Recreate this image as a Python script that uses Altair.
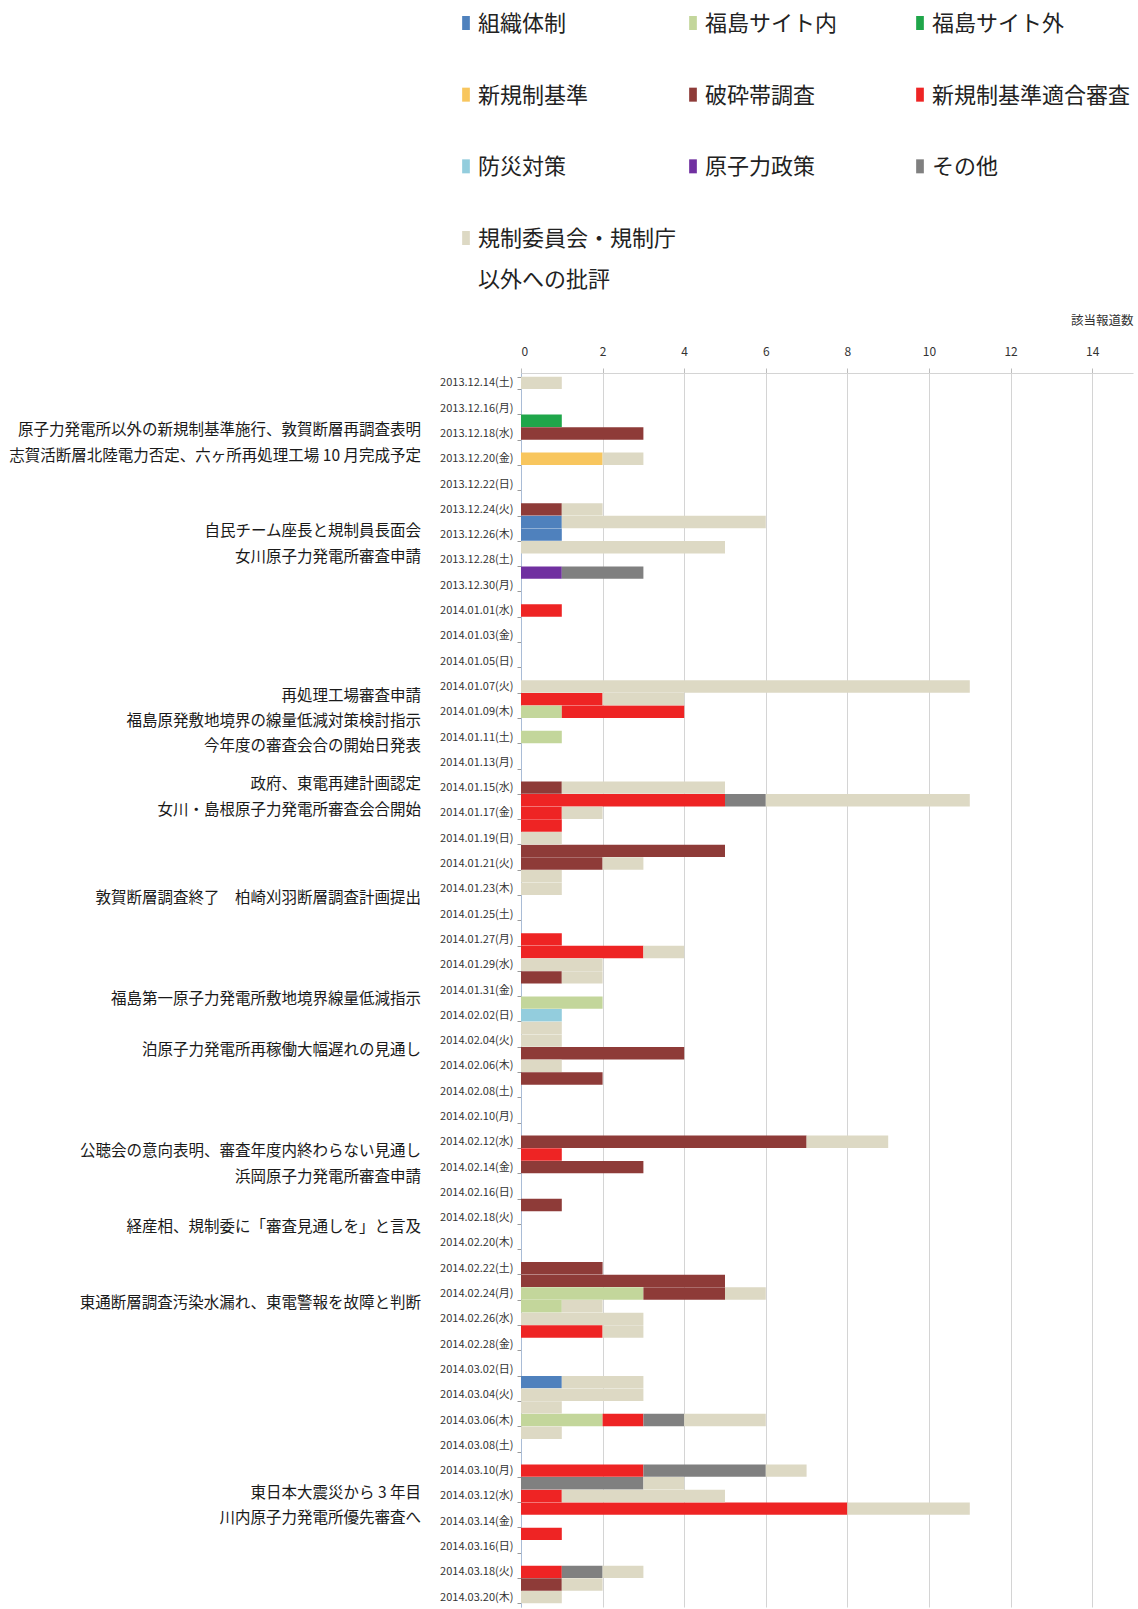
import altair as alt
import pandas as pd

FONT = "Noto Sans CJK JP"

categories = ["組織体制", "福島サイト内", "福島サイト外", "新規制基準", "破砕帯調査",
              "新規制基準適合審査", "防災対策", "原子力政策", "その他",
              "規制委員会・規制庁以外への批評"]
legend_text = ["組織体制", "福島サイト内", "福島サイト外", "新規制基準", "破砕帯調査",
               "新規制基準適合審査", "防災対策", "原子力政策", "その他",
               "規制委員会・規制庁\n以外への批評"]
colors = ["#4F81BD", "#C3D69B", "#1FA64A", "#F8C65E", "#8E3B38",
          "#EE2424", "#93CDDD", "#7030A0", "#808080", "#DDD9C4"]

start_date = "2013-12-14"
end_date = "2014-03-20"
weekday_jp = ["月", "火", "水", "木", "金", "土", "日"]

# counts per category, keyed by "MM.DD"
org = {"12.25": 1, "12.26": 1, "03.03": 1}
fuku_in = {"01.09": 1, "01.11": 1, "02.01": 2, "02.24": 3, "02.25": 1, "03.06": 2}
fuku_out = {"12.17": 1}
new_std = {"12.20": 2}
fault = {"12.18": 3, "12.24": 1, "01.15": 1, "01.20": 5, "01.21": 2, "01.30": 1,
         "02.05": 4, "02.07": 2, "02.12": 7, "02.14": 3, "02.17": 1, "02.22": 2,
         "02.23": 5, "02.24": 2, "03.19": 1}
review = {"01.01": 1, "01.08": 2, "01.09": 3, "01.16": 5, "01.17": 1, "01.18": 1,
          "01.27": 1, "01.28": 3, "02.13": 1, "02.27": 2, "03.06": 1, "03.10": 3,
          "03.12": 1, "03.13": 8, "03.15": 1, "03.18": 1}
disaster = {"02.02": 1}
policy = {"12.29": 1}
other = {"12.29": 2, "01.16": 1, "03.06": 1, "03.10": 3, "03.11": 3, "03.18": 1}
critique = {"12.14": 1, "12.20": 1, "12.24": 1, "12.25": 5, "12.27": 5, "01.07": 11,
            "01.08": 2, "01.15": 4, "01.16": 5, "01.17": 1, "01.19": 1, "01.21": 1,
            "01.22": 1, "01.23": 1, "01.28": 1, "01.29": 2, "01.30": 1, "02.03": 1,
            "02.04": 1, "02.06": 1, "02.12": 2, "02.24": 1, "02.25": 1, "02.26": 3,
            "02.27": 1, "03.03": 2, "03.04": 3, "03.05": 1, "03.06": 2, "03.07": 1,
            "03.10": 1, "03.11": 1, "03.12": 4, "03.13": 3, "03.18": 1, "03.19": 1,
            "03.20": 1}
series = [org, fuku_in, fuku_out, new_std, fault, review, disaster, policy, other, critique]

annotations = [
    ("12.18", "原子力発電所以外の新規制基準施行、敦賀断層再調査表明"),
    ("12.20", "志賀活断層北陸電力否定、六ヶ所再処理工場 10 月完成予定"),
    ("12.26", "自民チーム座長と規制員長面会"),
    ("12.28", "女川原子力発電所審査申請"),
    ("01.08", "再処理工場審査申請"),
    ("01.10", "福島原発敷地境界の線量低減対策検討指示"),
    ("01.12", "今年度の審査会合の開始日発表"),
    ("01.15", "政府、東電再建計画認定"),
    ("01.17", "女川・島根原子力発電所審査会合開始"),
    ("01.24", "敦賀断層調査終了　柏崎刈羽断層調査計画提出"),
    ("02.01", "福島第一原子力発電所敷地境界線量低減指示"),
    ("02.05", "泊原子力発電所再稼働大幅遅れの見通し"),
    ("02.13", "公聴会の意向表明、審査年度内終わらない見通し"),
    ("02.15", "浜岡原子力発電所審査申請"),
    ("02.19", "経産相、規制委に「審査見通しを」と言及"),
    ("02.25", "東通断層調査汚染水漏れ、東電警報を故障と判断"),
    ("03.12", "東日本大震災から 3 年目"),
    ("03.14", "川内原子力発電所優先審査へ"),
]

# ---- build tables ----
days = pd.date_range(start_date, end_date, freq="D")
labels = [f"{d:%Y.%m.%d}({weekday_jp[d.dayofweek]})" for d in days]
key_to_label = {f"{d:%m.%d}": lab for d, lab in zip(days, labels)}

rows = []
for ci, (cat, s) in enumerate(zip(categories, series)):
    for k, v in s.items():
        rows.append({"label": key_to_label[k], "cat": cat, "ci": ci, "count": v})
df = pd.DataFrame(rows)

ann_df = pd.DataFrame([{"label": key_to_label[k], "text": t} for k, t in annotations])

leg_df = pd.DataFrame({
    "cat": categories,
    "text": legend_text,
    "col": [i % 3 for i in range(len(categories))],
    "row": [i // 3 for i in range(len(categories))],
})

cscale = alt.Scale(domain=categories, range=colors)
yscale = alt.Scale(domain=labels, paddingInner=0.02, paddingOuter=0.29)
yaxis = alt.Axis(values=labels[::2], title=None, labelFontSize=11, labelColor="#333333",
                 tickSize=4, tickColor="#9a9a9a", domainColor="#A9BCD6", labelPadding=4,
                 tickBand="extent", grid=False)

bars = alt.Chart(df).mark_bar(strokeWidth=0).encode(
    x=alt.X("count:Q", stack="zero",
            scale=alt.Scale(domain=[0, 15], nice=False),
            axis=alt.Axis(orient="top", values=list(range(0, 15, 2)), grid=True,
                          gridColor="#D4D4D4", domainColor="#D4D4D4", tickColor="#BDBDBD",
                          tickSize=5, labelPadding=10, labelFontSize=12, labelColor="#333333",
                          title="該当報道数", titleX=612, titleY=-53, titleAlign="right",
                          titleBaseline="middle", titleFontSize=12.5, titleFontWeight="normal",
                          titleColor="#333333")),
    y=alt.Y("label:N", sort=labels, scale=yscale, axis=yaxis),
    color=alt.Color("cat:N", scale=cscale, legend=None),
    order=alt.Order("ci:Q", sort="ascending"),
)

ann = alt.Chart(ann_df).mark_text(align="right", baseline="middle", fontSize=15.5, dy=3,
                                  font=FONT, color="#1a1a1a").encode(
    x=alt.value(-100),
    y=alt.Y("label:N", sort=labels, scale=yscale, axis=yaxis, bandPosition=0),
    text="text:N",
)

xs = alt.X("col:Q", scale=alt.Scale(domain=[0, 2], range=[-55, 399], nice=False, zero=False), axis=None)
ys = alt.Y("row:Q", scale=alt.Scale(domain=[0, 3], range=[-350, -135], nice=False, zero=False), axis=None)

sym = alt.Chart(leg_df).mark_point(shape="M-0.55,-1H0.55V1H-0.55Z", size=196, filled=True,
                                   opacity=1, strokeWidth=0).encode(
    x=xs, y=ys, color=alt.Color("cat:N", scale=cscale, legend=None))
lab = alt.Chart(leg_df).mark_text(align="left", baseline="alphabetic", dx=12, dy=8,
                                  fontSize=22, font=FONT, color="#222222",
                                  lineBreak="\n", lineHeight=41).encode(
    x=xs, y=ys, text="text:N")

main = alt.layer(bars, ann)
legend = alt.layer(sym, lab)

chart = alt.layer(main, legend).resolve_scale(x="independent", y="independent").properties(
    width=612, height=1234,
    autosize=alt.AutoSizeParams(type="none"),
    padding={"left": 521, "top": 373, "right": 5, "bottom": 2},
).configure_view(stroke=None).configure_axis(labelFont=FONT, titleFont=FONT)

chart.save("out.html", embed_options={"renderer": "svg", "actions": False})
